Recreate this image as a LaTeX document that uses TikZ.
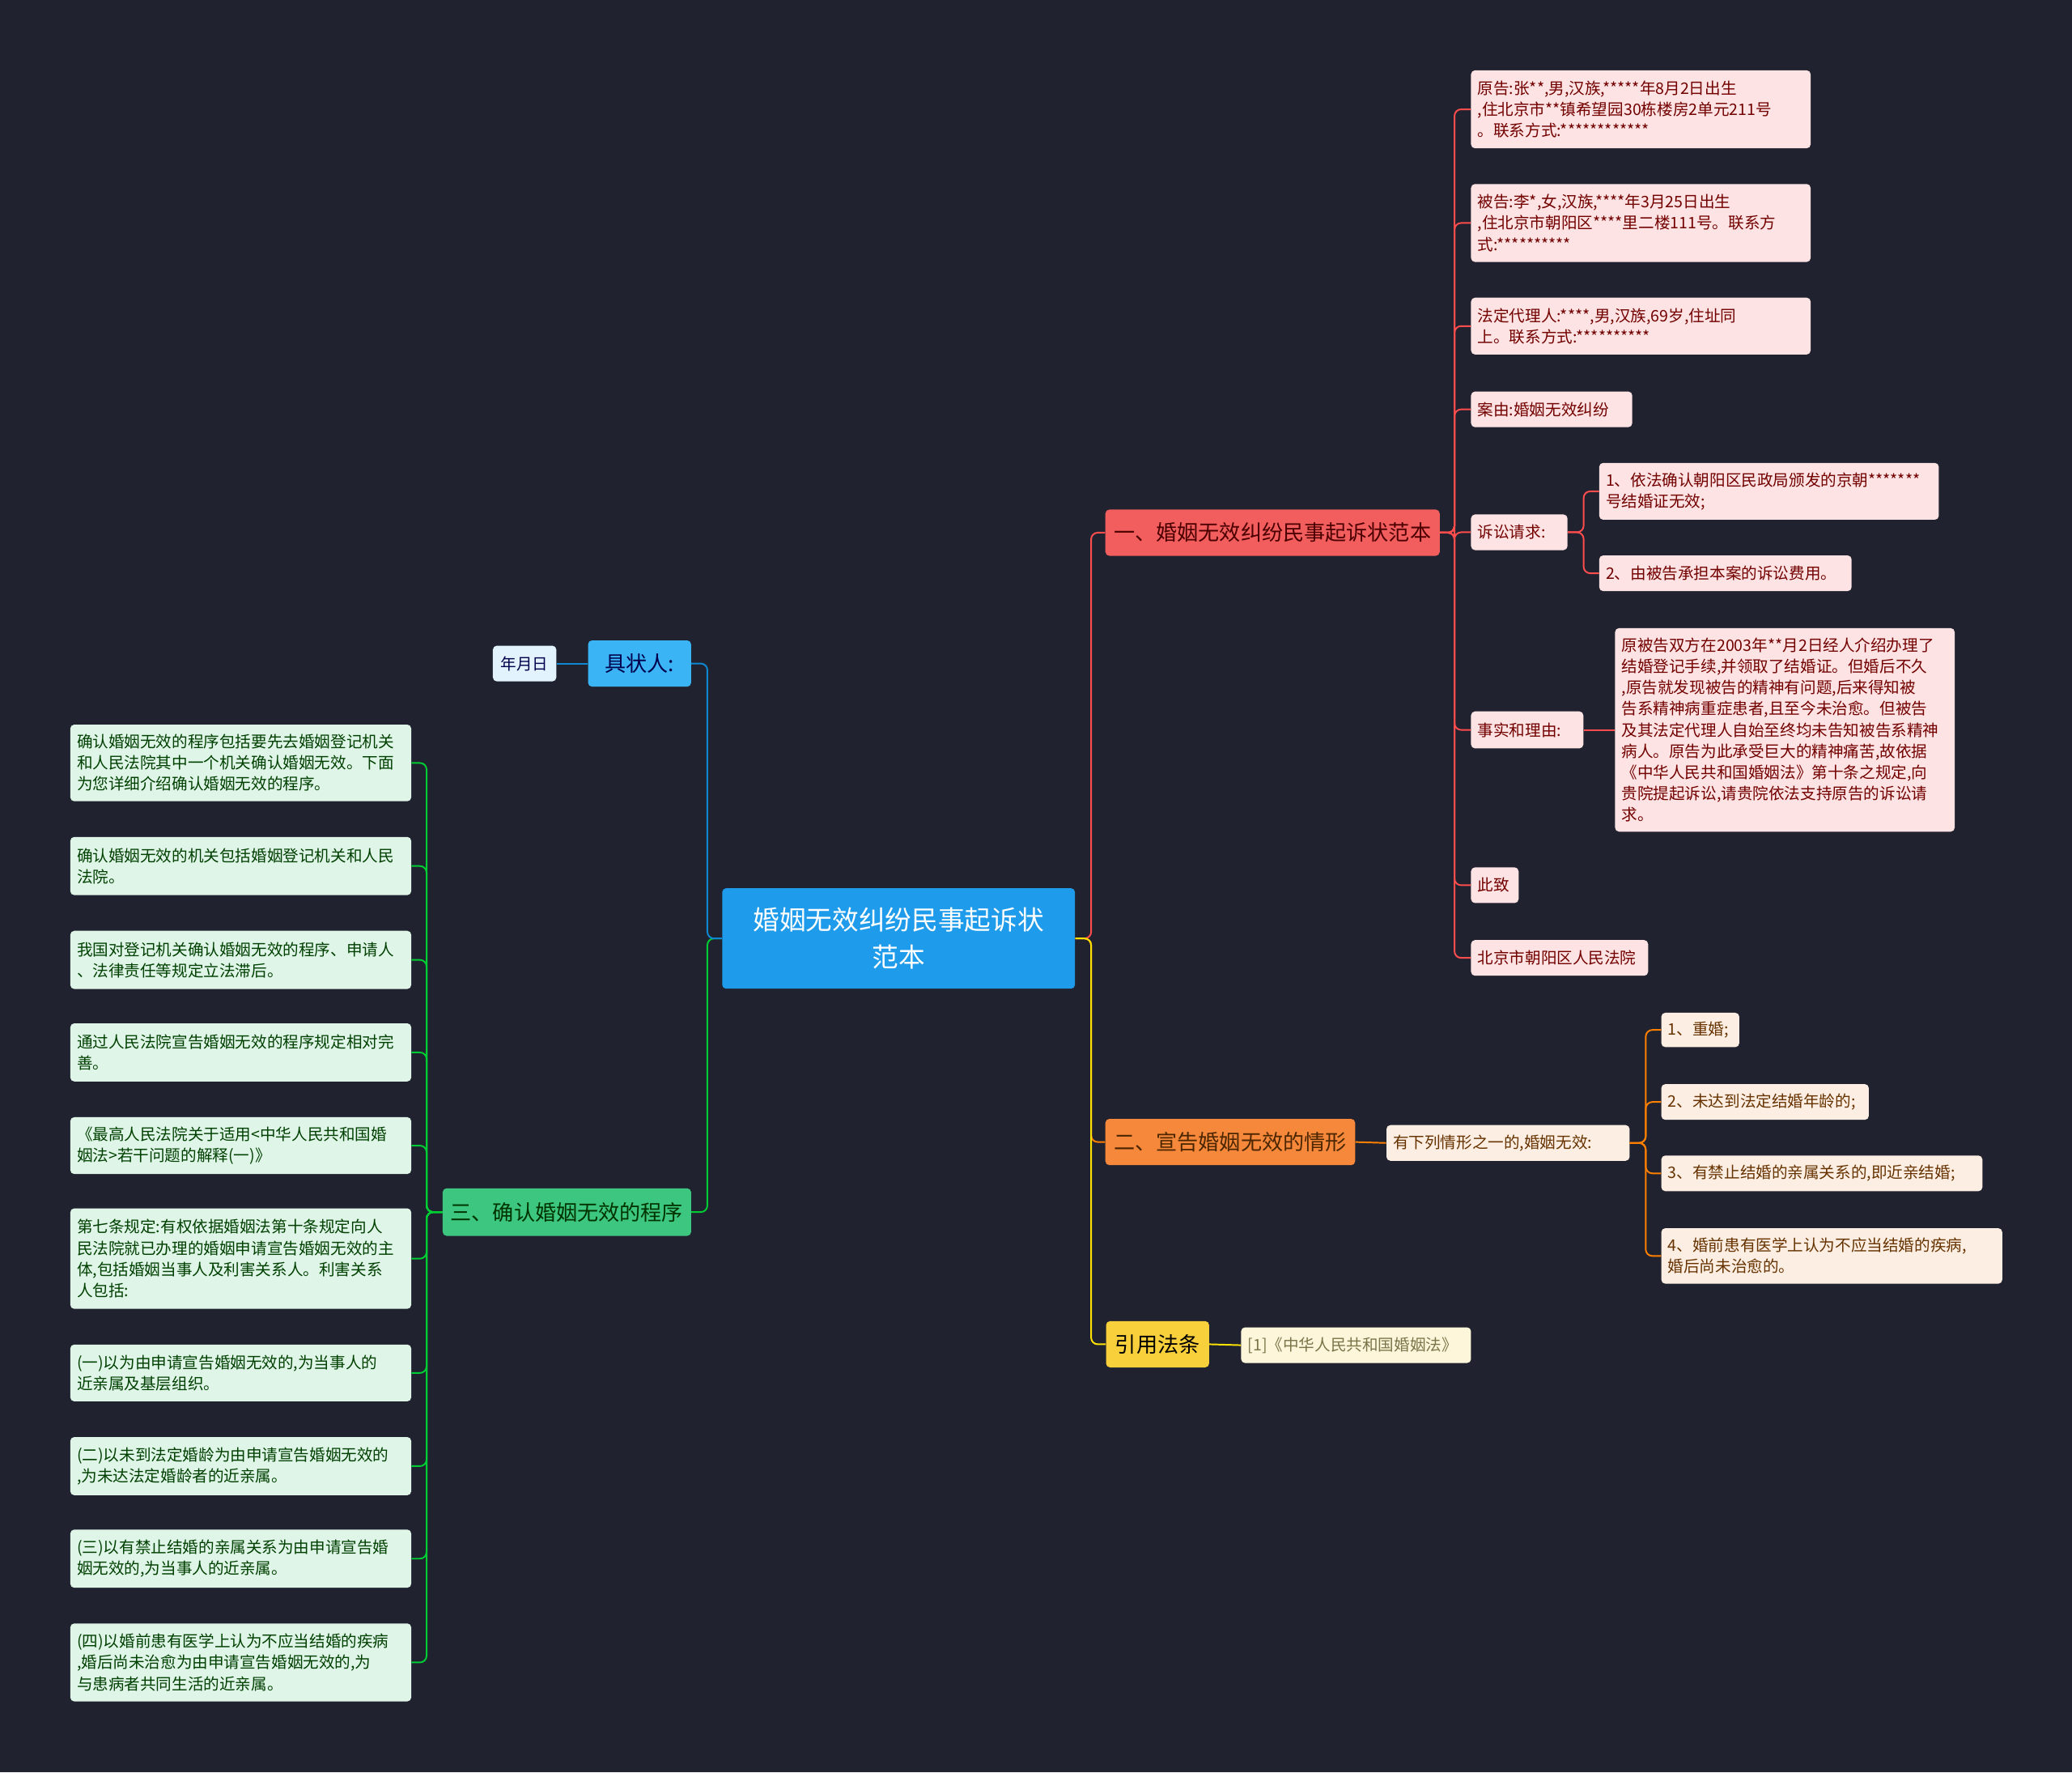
\documentclass[tikz,border=0pt]{standalone}
\usepackage{fontspec}
\setmainfont{Noto Sans CJK SC}
\begin{document}
\begin{tikzpicture}[x=1pt,y=-1pt,
  every node/.style={font=\fontsize{12}{16}\selectfont},
  box/.style n args={3}{anchor=north west,rounded corners=3pt,inner xsep=5pt,inner ysep=2pt,text width=#1-10,minimum height=#2,align=left,fill=#3},
  rl/.style={text=red!45!black},
  ol/.style={text=orange!40!black},
  gl/.style={text=green!25!black},
  rc/.style={draw=red!70!white,line width=1.2pt,rounded corners=5pt},
  oc/.style={draw=orange,line width=1.2pt,rounded corners=5pt},
  yc/.style={draw=yellow!85!orange,line width=1.2pt,rounded corners=5pt},
  gc/.style={draw=green!60!teal,line width=1.2pt,rounded corners=5pt},
  bc/.style={draw=cyan!70!blue,line width=1.2pt,rounded corners=5pt}]
\definecolor{bg}{HTML}{20232F}
\definecolor{cB}{HTML}{1E9BEA}
\definecolor{cR}{HTML}{F25D5D}
\definecolor{cO}{HTML}{F5883A}
\definecolor{cY}{HTML}{F8D03C}
\definecolor{cG}{HTML}{3CC67F}
\definecolor{cS}{HTML}{3AB4F5}
\definecolor{lR}{HTML}{FDE3E3}
\definecolor{lO}{HTML}{FDEEE3}
\definecolor{lY}{HTML}{FDF6DA}
\definecolor{lG}{HTML}{DFF5E8}
\definecolor{lS}{HTML}{E2F3FD}
\fill[bg] (0,0) rectangle (1568,1341);
\useasboundingbox (0,0) rectangle (1568,1341);

\node[anchor=center,fill=cB,rounded corners=3pt,minimum width=267,minimum height=76,align=center,text=white,font=\fontsize{20}{28}\selectfont] (c) at (680,710) {婚姻无效纠纷民事起诉状\\范本};

\node[anchor=center,fill=cR,rounded corners=3pt,minimum width=253,minimum height=35,text=red!30!black,font=\fontsize{16}{20}\selectfont] (r) at (963,403) {一、婚姻无效纠纷民事起诉状范本};
\node[anchor=center,fill=cO,rounded corners=3pt,minimum width=189,minimum height=35,text=orange!30!black,font=\fontsize{16}{20}\selectfont] (o) at (931,864) {二、宣告婚姻无效的情形};
\node[anchor=center,fill=cY,rounded corners=3pt,minimum width=78,minimum height=35,text=black,font=\fontsize{16}{20}\selectfont] (y) at (876,1017) {引用法条};
\node[anchor=center,fill=cG,rounded corners=3pt,minimum width=188,minimum height=36,text=green!20!black,font=\fontsize{16}{20}\selectfont] (g) at (429,917) {三、确认婚姻无效的程序};
\node[anchor=center,fill=cS,rounded corners=3pt,minimum width=78,minimum height=35,text=blue!30!black,font=\fontsize{16}{20}\selectfont] (s) at (484,502) {具状人:};
\node[anchor=center,fill=lS,rounded corners=3pt,minimum width=48,minimum height=27,text=blue!30!black] (s1) at (397,502) {年月日};

% red leaves
\node[box={257}{59}{lR},rl] (r1) at (1113,53) {原告:张**,男,汉族,*****年8月2日出生\\,住北京市**镇希望园30栋楼房2单元211号\\。联系方式:************};
\node[box={257}{59}{lR},rl] (r2) at (1113,139) {被告:李*,女,汉族,****年3月25日出生\\,住北京市朝阳区****里二楼111号。联系方\\式:**********};
\node[box={257}{43}{lR},rl] (r3) at (1113,225) {法定代理人:****,男,汉族,69岁,住址同\\上。联系方式:**********};
\node[box={122}{27}{lR},rl] (r4) at (1113,296) {案由:婚姻无效纠纷};
\node[box={73}{27}{lR},rl] (r5) at (1113,389) {诉讼请求:};
\node[box={257}{43}{lR},rl] (r51) at (1210,350) {1、依法确认朝阳区民政局颁发的京朝*******\\号结婚证无效;};
\node[box={191}{27}{lR},rl] (r52) at (1210,420) {2、由被告承担本案的诉讼费用。};
\node[box={85}{28}{lR},rl] (r6) at (1113,538) {事实和理由:};
\node[box={257}{154}{lR},rl] (r61) at (1222,475) {原被告双方在2003年**月2日经人介绍办理了\\结婚登记手续,并领取了结婚证。但婚后不久\\,原告就发现被告的精神有问题,后来得知被\\告系精神病重症患者,且至今未治愈。但被告\\及其法定代理人自始至终均未告知被告系精神\\病人。原告为此承受巨大的精神痛苦,故依据\\《中华人民共和国婚姻法》第十条之规定,向\\贵院提起诉讼,请贵院依法支持原告的诉讼请\\求。};
\node[box={36}{27}{lR},rl] (r7) at (1113,656) {此致};
\node[box={134}{27}{lR},rl] (r8) at (1113,711) {北京市朝阳区人民法院};

% orange
\node[box={184}{27}{lO},ol] (o1) at (1049,851) {有下列情形之一的,婚姻无效:};
\node[box={59}{26}{lO},ol] (o11) at (1257,766) {1、重婚;};
\node[box={157}{27}{lO},ol] (o12) at (1257,820) {2、未达到法定结婚年龄的;};
\node[box={243}{27}{lO},ol] (o13) at (1257,874) {3、有禁止结婚的亲属关系的,即近亲结婚;};
\node[box={258}{42}{lO},ol] (o14) at (1257,929) {4、婚前患有医学上认为不应当结婚的疾病,\\婚后尚未治愈的。};

% yellow
\node[box={174}{27}{lY},text=yellow!40!black] (y1) at (939,1004) {[1]《中华人民共和国婚姻法》};

% green
\node[box={258}{58}{lG},gl] (g1) at (53,548) {确认婚姻无效的程序包括要先去婚姻登记机关\\和人民法院其中一个机关确认婚姻无效。下面\\为您详细介绍确认婚姻无效的程序。};
\node[box={258}{44}{lG},gl] (g2) at (53,633) {确认婚姻无效的机关包括婚姻登记机关和人民\\法院。};
\node[box={258}{44}{lG},gl] (g3) at (53,704) {我国对登记机关确认婚姻无效的程序、申请人\\、法律责任等规定立法滞后。};
\node[box={258}{44}{lG},gl] (g4) at (53,774) {通过人民法院宣告婚姻无效的程序规定相对完\\善。};
\node[box={258}{43}{lG},gl] (g5) at (53,845) {《最高人民法院关于适用<中华人民共和国婚\\姻法>若干问题的解释(一)》};
\node[box={258}{76}{lG},gl] (g6) at (53,914) {第七条规定:有权依据婚姻法第十条规定向人\\民法院就已办理的婚姻申请宣告婚姻无效的主\\体,包括婚姻当事人及利害关系人。利害关系\\人包括:};
\node[box={258}{43}{lG},gl] (g7) at (53,1017) {(一)以为由申请宣告婚姻无效的,为当事人的\\近亲属及基层组织。};
\node[box={258}{44}{lG},gl] (g8) at (53,1087) {(二)以未到法定婚龄为由申请宣告婚姻无效的\\,为未达法定婚龄者的近亲属。};
\node[box={258}{44}{lG},gl] (g9) at (53,1157) {(三)以有禁止结婚的亲属关系为由申请宣告婚\\姻无效的,为当事人的近亲属。};
\node[box={258}{59}{lG},gl] (g10) at (53,1228) {(四)以婚前患有医学上认为不应当结婚的疾病\\,婚后尚未治愈为由申请宣告婚姻无效的,为\\与患病者共同生活的近亲属。};

% connectors
\draw[rc] (c.east) -- ++(12,0) |- (r.west);
\draw[oc] (c.east) -- ++(12,0) |- (o.west);
\draw[yc] (c.east) -- ++(12,0) |- (y.west);
\draw[gc] (c.west) -- ++(-11,0) |- (g.east);
\draw[bc] (c.west) -- ++(-11,0) |- (s.east);
\draw[bc] (s.west) -- (s1.east);
\foreach \n in {r1,r2,r3,r4,r5,r6,r7,r8} \draw[rc] (r.east) -- ++(11,0) |- (\n.west);
\foreach \n in {r51,r52} \draw[rc] (r5.east) -- ++(12,0) |- (\n.west);
\draw[rc] (r6.east) -- (r61.west);
\draw[oc] (o.east) -- (o1.west);
\foreach \n in {o11,o12,o13,o14} \draw[oc] (o1.east) -- ++(12,0) |- (\n.west);
\draw[yc] (y.east) -- (y1.west);
\foreach \n in {g1,g2,g3,g4,g5,g6,g7,g8,g9,g10} \draw[gc] (g.west) -- ++(-12,0) |- (\n.east);
\end{tikzpicture}
\end{document}
